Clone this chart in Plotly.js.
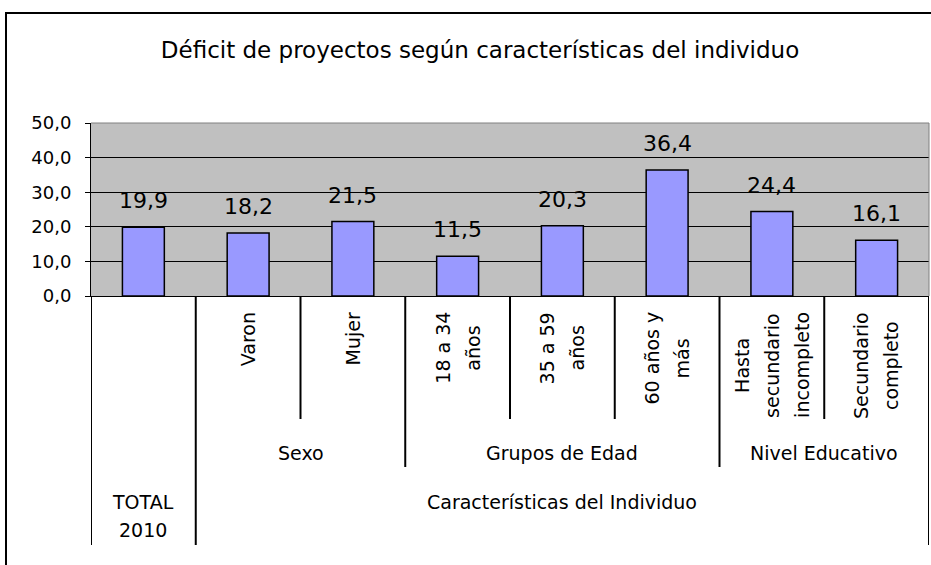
<!DOCTYPE html>
<html>
<head>
<meta charset="utf-8">
<script src="https://cdn.plot.ly/plotly-3.0.1.min.js"></script>
<style>html,body{margin:0;padding:0;background:#fff;}#chart{width:931px;height:565px;}</style>
</head>
<body>
<div id="chart"></div>
<script>
// ---- Data ----
const categories = ["TOTAL 2010", "Varon", "Mujer", "18 a 34 años", "35 a 59 años", "60 años y más", "Hasta secundario incompleto", "Secundario completo"];
const values = [19.9, 18.2, 21.5, 11.5, 20.3, 36.4, 24.4, 16.1];
const tickLabels = ["", "Varon", "Mujer", "18 a 34<br>años", "35 a 59<br>años", "60 años y<br>más", "Hasta<br>secundario<br>incompleto", "Secundario<br>completo"];
const groupNames = ["Sexo", "Grupos de Edad", "Nivel Educativo"];
const groupStart = [1, 3, 6];
const groupEnd = [2, 5, 7];
const topNames = ["TOTAL<br>2010", "Características del Individuo"];
const topStart = [0, 1];
const topEnd = [0, 7];
const yTickVals = [0, 10, 20, 30, 40, 50];
const chartTitle = "Déficit de proyectos según características del individuo";

// ---- Layout constants ----
const W = 931, H = 565;
const M = {l: 91, r: 2, t: 123, b: 269};
const FONT = '"DejaVu Sans", Verdana, sans-serif';
const plotW = W - M.l - M.r, plotH = H - M.t - M.b;
const axisY = H - M.b; // pixel y of the x axis

const ctx = document.createElement('canvas').getContext('2d');
ctx.font = '19px "DejaVu Sans"';
const measure = s => ctx.measureText(s).width;

const annotations = [];
// value labels
values.forEach((v, i) => {
  annotations.push({x: i, y: v, xref: 'x', yref: 'y', text: v.toFixed(1).replace('.', ','),
    showarrow: false, yanchor: 'bottom', xanchor: 'center', yshift: 12,
    font: {family: FONT, size: 22, color: '#000'}});
});
// level-1 rotated labels, one annotation per line, centred
const rotStep = 30, rotTop = 312;
tickLabels.forEach((lab, i) => {
  if (!lab) return;
  const lines = lab.split('<br>');
  const maxLen = Math.max(...lines.map(measure));
  lines.forEach((ln, j) => {
    annotations.push({x: i, y: 0, xref: 'x', yref: 'paper', text: ln, textangle: -90,
      showarrow: false, xanchor: 'center', yanchor: 'middle', borderpad: 0,
      xshift: (j - (lines.length - 1) / 2) * rotStep,
      yshift: -((rotTop - axisY) + maxLen / 2),
      font: {family: FONT, size: 19, color: '#000'}});
  });
});
// level-2 group labels
groupNames.forEach((g, k) => {
  annotations.push({x: (groupStart[k] + groupEnd[k]) / 2, y: 0, xref: 'x', yref: 'paper', text: g,
    showarrow: false, xanchor: 'center', yanchor: 'middle', yshift: -(453 - axisY),
    font: {family: FONT, size: 19, color: '#000'}});
});
// level-3 labels
topNames.forEach((g, k) => {
  g.split('<br>').forEach((ln, j) => {
    annotations.push({x: (topStart[k] + topEnd[k]) / 2, y: 0, xref: 'x', yref: 'paper', text: ln,
      showarrow: false, xanchor: 'center', yanchor: 'middle', yshift: -(502 + 28 * j - axisY),
      font: {family: FONT, size: 19, color: '#000'}});
  });
});

// divider lines under the axis
const shapes = [];
const depthPx = [0, 419 - axisY, 467 - axisY, 545 - axisY];
for (let b = 0; b <= categories.length; b++) {
  const pos = b - 0.5;
  let depth = 1;
  const isGroupEdge = groupStart.includes(b) || groupEnd.map(e => e + 1).includes(b);
  const isTopEdge = topStart.includes(b) || topEnd.map(e => e + 1).includes(b);
  if (isGroupEdge) depth = 2;
  if (isTopEdge) depth = 3;
  shapes.push({type: 'line', xref: 'x', yref: 'paper', ysizemode: 'pixel', yanchor: 0,
    x0: pos, x1: pos, y0: 0, y1: -depthPx[depth], line: {color: '#000', width: 2}});
}
// plot area top/right border (grey)
shapes.push({type: 'path', xref: 'paper', yref: 'paper', path: 'M 0,1 L 1,1 L 1,0',
  line: {color: '#808080', width: 1}});
// outer chart frame (left and top visible)
const fx = (6 - M.l) / plotW, fy = (axisY - 13) / plotH;
shapes.push({type: 'path', xref: 'paper', yref: 'paper',
  path: `M ${fx},-3 L ${fx},${fy} L 2,${fy}`, line: {color: '#000', width: 2}});

const trace = {
  type: 'bar', x: categories, y: values,
  marker: {color: '#9999FF', line: {color: '#000', width: 1.5}},
  hoverinfo: 'x+y'
};

const layout = {
  width: W, height: H, margin: M,
  paper_bgcolor: '#fff', plot_bgcolor: '#C0C0C0',
  separators: ',.',
  showlegend: false,
  bargap: 0.6,
  title: {text: chartTitle, font: {family: FONT, size: 23, color: '#000'},
    xref: 'container', yref: 'container', x: 480 / W, y: 1 - 50 / H, xanchor: 'center', yanchor: 'middle'},
  xaxis: {type: 'category', range: [-0.5, categories.length - 0.5], showticklabels: false, ticks: '',
    showgrid: false, showline: true, linecolor: '#000', linewidth: 1, zeroline: false, fixedrange: true},
  yaxis: {range: [0, 50], tickvals: yTickVals, tickformat: '.1f', ticks: 'outside', ticklen: 5,
    tickcolor: '#000', tickwidth: 1, showline: true, linecolor: '#000', linewidth: 1,
    showgrid: true, gridcolor: '#000', gridwidth: 1, zeroline: true, zerolinecolor: '#000',
    ticklabelstandoff: 10, tickfont: {family: FONT, size: 18, color: '#000'}, fixedrange: true},
  annotations: annotations,
  shapes: shapes
};

Plotly.newPlot('chart', [trace], layout, {displayModeBar: false, staticPlot: true});
</script>
</body>
</html>
